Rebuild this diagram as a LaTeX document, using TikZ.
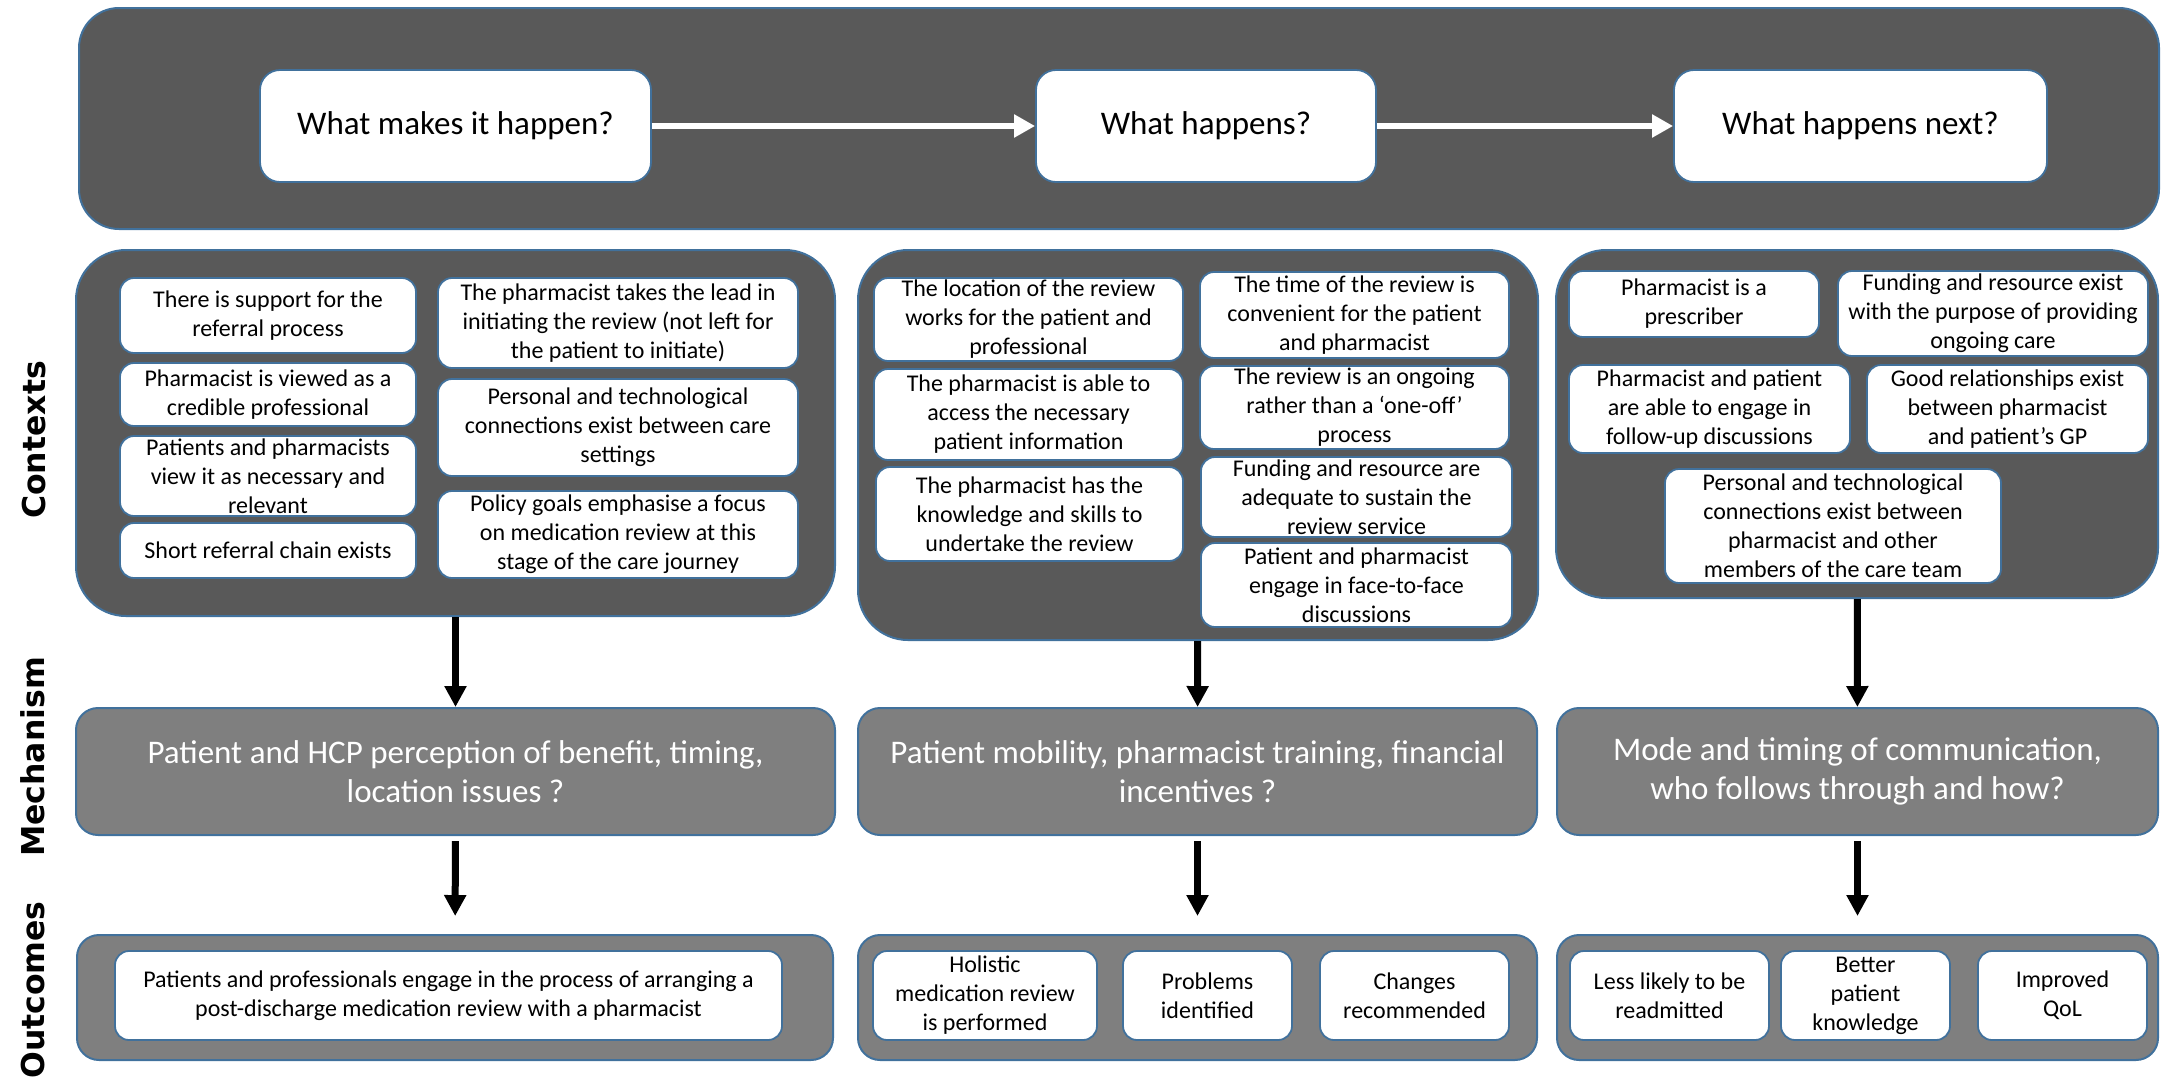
\documentclass[tikz,border=0pt]{standalone}
\usepackage{fontspec}
\setmainfont{Carlito}
\newfontfamily\sidefont{DejaVu Sans}
\usepackage{tikz}
\usetikzlibrary{arrows.meta}
\definecolor{bordercol}{RGB}{65,113,156}
\definecolor{darkpanel}{RGB}{89,89,89}
\definecolor{midpanel}{RGB}{127,127,127}

\begin{document}
\begin{tikzpicture}[x=1pt,y=-1pt,
   sz/.style 2 args={minimum width=#1pt,minimum height=#2pt},
   panel/.style={draw=bordercol,line width=2pt,fill=darkpanel,rounded corners=#1,inner sep=0pt},
   opanel/.style={panel=22pt,fill=midpanel},
   wbox/.style={draw=bordercol,line width=1.8pt,fill=white,rounded corners=14pt,align=center,inner sep=0pt,font=\fontsize{24}{29}\selectfont},
   hbox/.style={wbox,rounded corners=20pt,font=\fontsize{33}{40}\selectfont},
   mbox/.style={draw=bordercol,line width=2pt,fill=midpanel,rounded corners=22pt,align=center,inner sep=0pt,text=white,font=\fontsize{33}{39}\selectfont},
   side/.style={rotate=90,font=\sidefont\bfseries\fontsize{31.5}{38}\selectfont},
   down/.style={-{Triangle[width=21pt,length=21pt]},line width=7pt},
   wide/.style={-{Triangle[width=22pt,length=21pt]},line width=6.5pt,white}]
   \useasboundingbox (0,0) rectangle (2161,1080);

   \node[panel=40pt,sz={2080}{221}] (top) at (1119,118.5) {};
   \node[hbox,sz={391}{112}] (h_1) at (455.5,126) {What makes it happen?};
   \node[hbox,sz={340}{112}] (h_2) at (1206,126) {What happens?};
   \node[hbox,sz={373}{112}] (h_3) at (1860.5,126) {What happens next?};
   \path[wide] (h_1) edge (h_2)
               (h_2) edge (h_3);

   \node[side] (l_ctx) at (34,440) {Contexts};
   \node[side] (l_mech) at (33,757) {Mechanism};
   \node[side] (l_out) at (33,990) {Outcomes};

   \node[panel=50pt,sz={759}{366}] (ctx_1) at (455.5,433) {};
   \node[wbox,sz={296}{75}] (a_1) at (268,315.5) {There is support for the\\referral process};
   \node[wbox,sz={296}{63}] (a_2) at (268,394.5) {Pharmacist is viewed as a\\credible professional};
   \node[wbox,sz={296}{80}] (a_3) at (268,476) {Patients and pharmacists\\view it as necessary and\\relevant};
   \node[wbox,sz={296}{55}] (a_4) at (268,550.5) {Short referral chain exists};
   \node[wbox,sz={360}{90}] (a_5) at (618,323) {The pharmacist takes the lead in\\initiating the review (not left for\\the patient to initiate)};
   \node[wbox,sz={360}{97}] (a_6) at (618,427.5) {Personal and technological\\connections exist between care\\settings};
   \node[wbox,sz={360}{87}] (a_7) at (618,534.5) {Policy goals emphasise a focus\\on medication review at this\\stage of the care journey};

   \node[panel=50pt,sz={680}{390}] (ctx_2) at (1198,445) {};
   \node[wbox,sz={309}{83}] (b_1) at (1028.5,319.5) {The location of the review\\works for the patient and\\professional};
   \node[wbox,sz={309}{91}] (b_2) at (1028.5,414.5) {The pharmacist is able to\\access the necessary\\patient information};
   \node[wbox,sz={307}{94}] (b_3) at (1029.5,514) {The pharmacist has the\\knowledge and skills to\\undertake the review};
   \node[wbox,sz={309}{86}] (b_4) at (1354.5,315) {The time of the review is\\convenient for the patient\\and pharmacist};
   \node[wbox,sz={309}{83}] (b_5) at (1354.5,407.5) {The review is an ongoing\\rather than a ‘one-off’\\process};
   \node[wbox,sz={311}{80}] (b_6) at (1356.5,497) {Funding and resource are\\adequate to sustain the\\review service};
   \node[wbox,sz={311}{84}] (b_7) at (1356.5,585) {Patient and pharmacist\\engage in face-to-face\\discussions};

   \node[panel=50pt,sz={602}{348}] (ctx_3) at (1857,424) {};
   \node[wbox,sz={250}{66}] (c_1) at (1694,304) {Pharmacist is a\\prescriber};
   \node[wbox,sz={310}{85}] (c_2) at (1993,313.5) {Funding and resource exist\\with the purpose of providing\\ongoing care};
   \node[wbox,sz={281}{88}] (c_3) at (1709.5,409) {Pharmacist and patient\\are able to engage in\\follow-up discussions};
   \node[wbox,sz={281}{88}] (c_4) at (2007.5,409) {Good relationships exist\\between pharmacist\\and patient’s GP};
   \node[wbox,sz={336}{114}] (c_5) at (1833,526) {Personal and technological\\connections exist between\\pharmacist and other\\members of the care team};

   \node[mbox,sz={759}{127}] (mech_1) at (455.5,771.5) {Patient and HCP perception of benefit, timing,\\location issues ?};
   \node[mbox,sz={679}{127}] (mech_2) at (1197.5,771.5) {Patient mobility, pharmacist training, financial\\incentives ?};
   \node[mbox,sz={601}{127}] (mech_3) at (1857.5,771.5) {Mode and timing of communication,\\who follows through and how?};

   \node[opanel,sz={756}{125}] (out_1) at (455,997.5) {};
   \node[wbox,sz={667}{89}] (d_1) at (448.5,995.5) {Patients and professionals engage in the process of arranging a\\post-discharge medication review with a pharmacist};
   \node[opanel,sz={679}{125}] (out_2) at (1197.5,997.5) {};
   \node[wbox,sz={224}{89}] (e_1) at (985,995.5) {Holistic\\medication review\\is performed};
   \node[wbox,sz={169}{89}] (e_2) at (1207.5,995.5) {Problems\\identified};
   \node[wbox,sz={189}{89}] (e_3) at (1414.5,995.5) {Changes\\recommended};
   \node[opanel,sz={601}{125}] (out_3) at (1857.5,997.5) {};
   \node[wbox,sz={199}{89}] (f_1) at (1669.5,995.5) {Less likely to be\\readmitted};
   \node[wbox,sz={169}{89}] (f_2) at (1865.5,995.5) {Better\\patient\\knowledge};
   \node[wbox,sz={169}{89}] (f_3) at (2062.5,995.5) {Improved\\QoL};

   \path[down]
   (ctx_1) edge (mech_1)
   (ctx_2) edge (mech_2)
   (ctx_3) edge (mech_3)
   (mech_1) edge[shorten <=5pt,shorten >=18pt] (out_1)
   (mech_2) edge[shorten <=5pt,shorten >=18pt] (out_2)
   (mech_3) edge[shorten <=5pt,shorten >=18pt] (out_3);
\end{tikzpicture}
\end{document}
